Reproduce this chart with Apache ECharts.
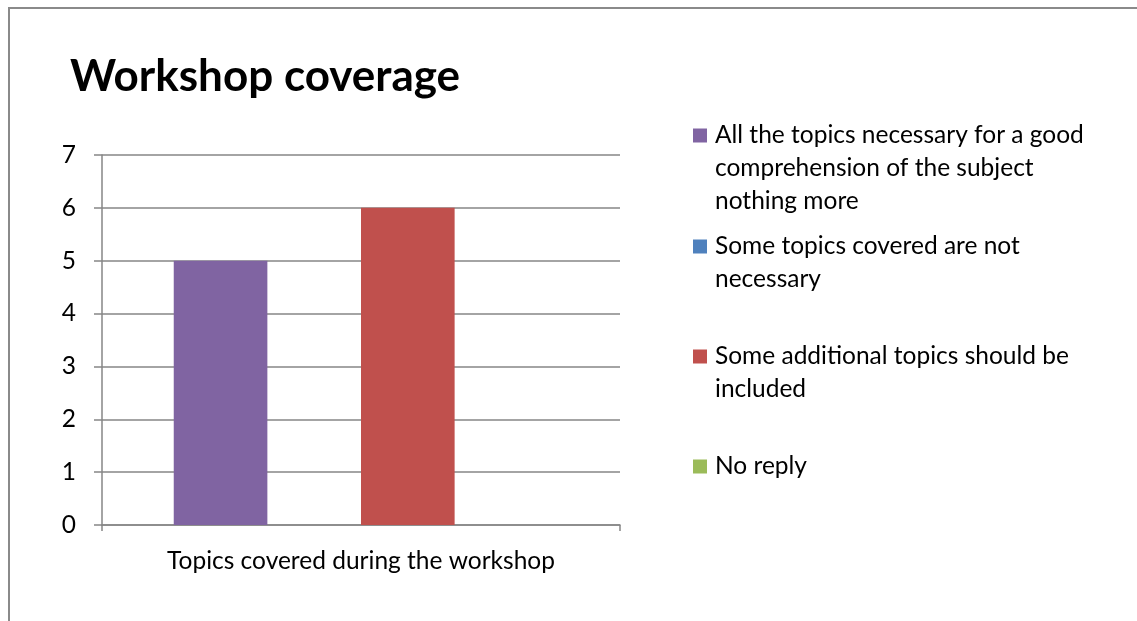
<!DOCTYPE html>
<html>
<head>
<meta charset="utf-8">
<script src="https://cdn.jsdelivr.net/npm/echarts@6/dist/echarts.min.js"></script>
<style>
html,body{margin:0;padding:0;background:#fff;}
#frame{position:absolute;left:8px;top:7px;width:1140px;height:620px;border-top:2px solid #8a8a8a;border-left:2px solid #8a8a8a;box-sizing:border-box;}
#chart{position:absolute;left:0;top:0;width:1137px;height:621px;}
</style>
</head>
<body>
<div id="frame"></div>
<div id="chart"></div>
<script>
const titleText = 'Workshop coverage';
const categories = ['Topics covered during the workshop'];
const seriesNames = [
  'All the topics necessary for a good comprehension of the subject nothing more',
  'Some topics covered are not necessary',
  'Some additional topics should be included',
  'No reply'
];
const legendLines = [
  ['All the topics necessary for a good', 'comprehension of the subject', 'nothing more'],
  ['Some topics covered are not', 'necessary'],
  ['Some additional topics should be', 'included'],
  ['No reply']
];
const seriesValues = [[5], [0], [6], [0]];
const colors = ['#8064A2', '#4F81BD', '#C0504D', '#9BBB59'];
const yTicks = { min: 0, max: 7, interval: 1 };

const FONT = 'Lato';
const FS = 24.5;
const LH = 33;
const legendTops = [119, 230, 340, 450];

const chart = echarts.init(document.getElementById('chart'), null, {renderer: 'canvas'});

const legends = seriesNames.map((name, i) => ({
  data: [name],
  orient: 'vertical',
  left: 688,
  top: legendTops[i],
  padding: 0,
  itemWidth: 0,
  itemHeight: 0,
  itemGap: 0,
  icon: 'rect',
  itemStyle: { opacity: 0 },
  selectedMode: false,
  formatter: () => legendLines[i].map((l, k) =>
    (k === 0 ? '{sq|}{g|}' : '{ind|}') + '{t|' + l + '}').join('\n'),
  textStyle: {
    fontFamily: FONT,
    fontSize: FS,
    color: '#000',
    lineHeight: LH,
    rich: {
      sq: { width: 14, height: 14, backgroundColor: colors[i] },
      g: { width: 8, height: 14 },
      ind: { width: 22, height: 14 },
      t: { fontFamily: FONT, fontSize: FS, color: '#000', lineHeight: LH }
    }
  }
}));

const option = {
  animation: false,
  backgroundColor: 'transparent',
  title: {
    text: titleText,
    left: 70,
    top: 55,
    padding: 0,
    textStyle: { fontFamily: FONT, fontWeight: 'bold', fontSize: 44, color: '#000' }
  },
  legend: legends,
  grid: { left: 102, top: 155, right: 517, bottom: 96, containLabel: false },
  xAxis: {
    type: 'category',
    data: categories,
    axisLine: { lineStyle: { color: '#868686', width: 1.5 } },
    axisTick: { show: true, length: 6, lineStyle: { color: '#868686', width: 1.5 } },
    axisLabel: { fontFamily: FONT, fontSize: FS, color: '#000', margin: 24 }
  },
  yAxis: {
    type: 'value',
    min: yTicks.min,
    max: yTicks.max,
    interval: yTicks.interval,
    axisLine: { show: true, lineStyle: { color: '#868686', width: 1.5 } },
    axisTick: { show: true, length: 8, lineStyle: { color: '#868686', width: 1.5 } },
    axisLabel: { fontFamily: FONT, fontSize: FS, color: '#000', margin: 26 },
    splitLine: { show: true, lineStyle: { color: '#868686', width: 1.5 } }
  },
  series: seriesNames.map((name, i) => ({
    name,
    type: 'bar',
    data: seriesValues[i],
    itemStyle: { color: colors[i] },
    barGap: '0%',
    barCategoryGap: '27.7%'
  }))
};
chart.setOption(option);
</script>
</body>
</html>
